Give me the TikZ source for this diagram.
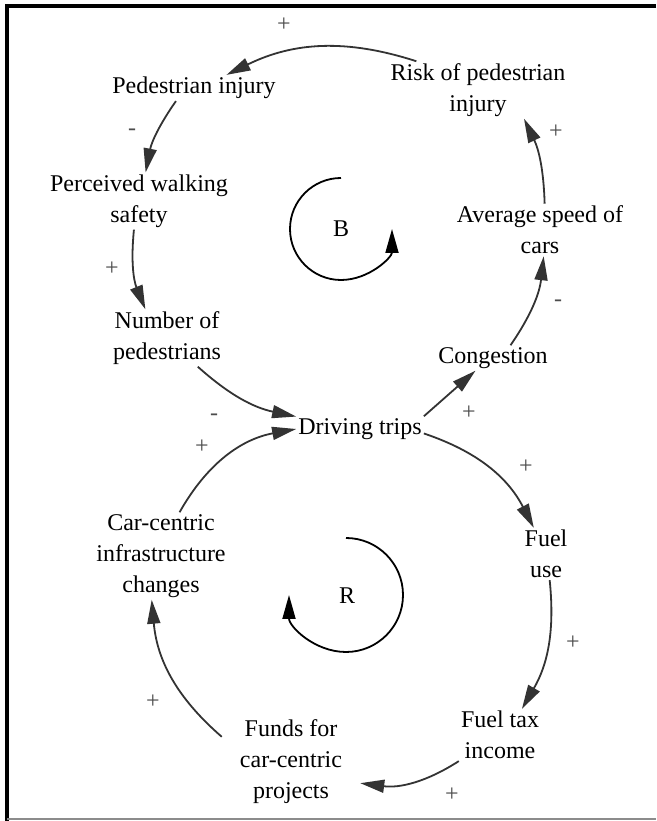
\documentclass[tikz,border=0pt]{standalone}
\usepackage{fontspec}
\setmainfont{Liberation Serif}
\usetikzlibrary{arrows.meta}

\begin{document}
\begin{tikzpicture}[
  x=1pt, y=1pt,
  var/.style={align=center, inner sep=2pt, font=\fontsize{24}{31}\selectfont},
  sgn/.style={inner sep=0pt, text=black!70, font=\fontsize{24}{24}\selectfont},
  arr/.style={-{Triangle[length=24pt,width=13pt]}, draw=black!80, line width=1.8pt},
  loopar/.style={-{Triangle[length=24pt,width=13pt]}, line width=1.8pt}
]
\useasboundingbox (0,0) rectangle (656,821);
\draw[line width=4pt] (656,815) -- (7,815) -- (7,0);
\draw[black!45, line width=2pt] (7,2) -- (656,2);

\node[var] (injury) at (194,733) {Pedestrian injury};
\node[var] (risk) at (478,731) {Risk of pedestrian\\injury};
\node[var] (safety) at (139,620) {Perceived walking\\safety};
\node[var] (peds) at (167,483) {Number of\\pedestrians};
\node[var] (trips) at (360,392) {Driving trips};
\node[var] (cong) at (493,463) {Congestion};
\node[var] (speed) at (540,591) {Average speed of\\cars};
\node[var] (fuel) at (546,267) {Fuel\\use};
\node[var] (infra) at (161,265) {Car-centric\\infrastructure\\changes};
\node[var] (tax) at (500,86) {Fuel tax\\income};
\node[var, inner xsep=18pt] (funds) at (291,59) {Funds for\\car-centric\\projects};
\node[var] (bal) at (341,592) {B};
\node[var] (rein) at (347,225) {R};

\draw[arr] (risk.155) to[bend right=22] (injury.22);
\draw[arr] (injury.216) to[bend right=12] (safety.77);
\draw[arr] (safety.260) to[bend right=14] (peds.127);
\draw[arr] (peds.317) to[bend right=15] (trips.169);
\draw[arr] (trips.north east) -- (cong.216);
\draw[arr] (cong.36) to[bend right=14] (speed.278);
\draw[arr] (speed.80) to[bend right=12] (risk.328);
\draw[arr] (trips.356) to[bend left=22] (fuel.115);
\draw[arr] (fuel.278) to[bend left=18] (tax.50);
\draw[arr] (tax.south west) to[bend left=20] (funds.-17);
\draw[arr] (funds.160) to[bend left=22] (infra.258);
\draw[arr] (infra.67) to[bend left=25] (trips.180);

\draw[loopar] ([yshift=51pt]bal.center) arc[start angle=90, end angle=360, radius=51];
\draw[loopar] ([xshift=-1pt,yshift=58pt]rein.center) arc[start angle=90, end angle=-180, radius=57];

\node[sgn] (s1) at (284,796) {+};
\node[sgn] (s2) at (132,689) {-};
\node[sgn] (s3) at (112,552) {+};
\node[sgn] (s4) at (214,404) {-};
\node[sgn] (s5) at (202,374) {+};
\node[sgn] (s6) at (469,408) {+};
\node[sgn] (s7) at (558,518) {-};
\node[sgn] (s8) at (556,689) {+};
\node[sgn] (s9) at (526,354) {+};
\node[sgn] (s10) at (573,178) {+};
\node[sgn] (s11) at (452,26) {+};
\node[sgn] (s12) at (153,119) {+};
\end{tikzpicture}
\end{document}
